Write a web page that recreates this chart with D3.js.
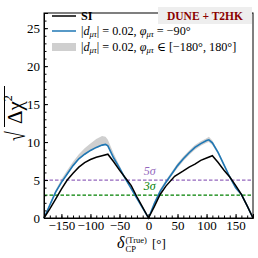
<!DOCTYPE html>
<html><head><meta charset="utf-8">
<script src="https://cdn.jsdelivr.net/npm/d3@7"></script>
<style>body{margin:0;background:#fff}svg{display:block}text{font-family:"Liberation Serif","DejaVu Serif",serif}</style>
</head><body><div id="c"></div>
<script>
const deltaSI = [-180,-170,-160,-150,-140,-130,-120,-110,-100,-90,-80,-70,-60,-50,-40,-30,-20,-10,0,10,20,30,45,60,70,80,90,100,110,120,130,140,150,160,170,180];
const valSI   = [0,1.2,2.5,3.8,5.0,5.9,6.7,7.3,7.7,8.0,8.2,8.4,7.4,6.3,5.3,4.3,2.8,1.4,0,1.5,3.1,4.2,5.5,6.2,6.7,7.1,7.6,7.9,8.2,7.3,6.3,5.4,4.3,3.1,1.6,0];
const deltaNSI = [-180,-170,-160,-150,-140,-130,-120,-110,-100,-90,-80,-74,-70,-60,-50,-40,-30,-20,-10,0,10,20,30,40,50,60,70,80,90,100,104,110,120,130,140,150,160,170,180];
const valNSI   = [0,1.7,3.4,4.7,5.8,6.9,7.8,8.4,8.9,9.3,9.6,9.7,9.5,7.9,6.6,5.2,3.9,2.6,1.3,0,1.9,3.5,4.7,5.8,6.9,7.8,8.6,9.3,9.8,10.2,10.3,9.9,8.6,7.0,5.4,4.0,3.1,1.6,0];
const bandHi   = [0,1.9,3.7,5.1,6.3,7.4,8.4,9.2,9.8,10.4,10.8,10.7,10.3,8.5,6.9,5.4,4.0,2.7,1.35,0,2.1,3.8,5.0,6.1,7.2,8.1,8.9,9.6,10.1,10.5,10.7,10.2,8.8,7.2,5.6,4.2,3.2,1.7,0];
const bandLo   = [0,1.6,3.3,4.6,5.7,6.8,7.7,8.3,8.8,9.2,9.5,9.6,9.4,7.8,6.5,5.1,3.8,2.5,1.25,0,1.7,3.3,4.5,5.6,6.6,7.5,8.3,9.0,9.5,9.9,10.0,9.6,8.4,6.8,5.2,3.8,3.0,1.5,0];
const xTicks = [-150,-100,-50,0,50,100,150];
const yTicks = [0,5,10,15,20,25];
const sigmaLevels = [5,3];
const sigmaLabels = ["5σ","3σ"];
const sigmaColors = ["#9467bd","#008000"];

const W=258,H=258, L=44,R=253,T=13,B=218;
const svg=d3.select("#c").append("svg").attr("width",W).attr("height",H);
const x=d3.scaleLinear().domain([-180,180]).range([L,R]);
const y=d3.scaleLinear().domain([0,27]).range([B,T]);

const g=svg.append("g");
const area=d3.area().x((d,i)=>x(deltaNSI[i])).y0((d,i)=>y(bandLo[i])).y1((d,i)=>y(bandHi[i]));
g.append("path").datum(bandHi).attr("d",area).attr("fill","#cfcfcf").attr("stroke","none");
sigmaLevels.forEach((s,i)=>{
  g.append("line").attr("x1",L).attr("x2",R).attr("y1",y(s)).attr("y2",y(s))
   .attr("stroke",sigmaColors[i]).attr("stroke-width",1.2).attr("stroke-dasharray","3.5,2");
  g.append("text").attr("x",x(2)).attr("y",y(s)-5).attr("text-anchor","middle")
   .attr("font-size",12).attr("fill",sigmaColors[i]).attr("font-style","italic").text(sigmaLabels[i]);
});
const line=(xs)=>d3.line().x((d,i)=>x(xs[i])).y(d=>y(d));
g.append("path").datum(valNSI).attr("d",line(deltaNSI)).attr("fill","none").attr("stroke","#1f77b4").attr("stroke-width",1.6);
g.append("path").datum(valSI).attr("d",line(deltaSI)).attr("fill","none").attr("stroke","#000").attr("stroke-width",1.5);

svg.append("g").attr("transform",`translate(0,${B})`)
  .call(d3.axisBottom(x).tickValues(xTicks).tickSize(-4).tickPadding(3).tickFormat(d=>d<0?"−"+Math.abs(d):d));
svg.append("g").attr("transform",`translate(0,${B})`)
  .call(d3.axisBottom(x).tickValues(d3.range(-170,180,10)).tickSize(-2.5).tickFormat(""))
  .call(a=>a.select(".domain").remove());
svg.append("g").attr("transform",`translate(${L},0)`)
  .call(d3.axisLeft(y).tickValues(yTicks).tickSize(-4).tickPadding(4));
svg.append("g").attr("transform",`translate(${L},0)`)
  .call(d3.axisLeft(y).tickValues(d3.range(1,28,1)).tickSize(-2.5).tickFormat(""))
  .call(a=>a.select(".domain").remove());
svg.selectAll(".tick text").attr("font-size",13).attr("font-family","Liberation Serif, serif").attr("fill","#000");
svg.selectAll(".domain").attr("stroke","#000");
svg.append("rect").attr("x",L).attr("y",T).attr("width",R-L).attr("height",B-T).attr("fill","none").attr("stroke","#000").attr("stroke-width",1);

// legend
const lg=svg.append("g").attr("font-size",12.2);
lg.append("line").attr("x1",52).attr("x2",76).attr("y1",16).attr("y2",16).attr("stroke","#000").attr("stroke-width",1.5);
lg.append("text").attr("x",81).attr("y",20).attr("font-weight","bold").text("SI");
lg.append("line").attr("x1",52).attr("x2",76).attr("y1",31).attr("y2",31).attr("stroke","#1f77b4").attr("stroke-width",1.5);
function legText(yy, tail){
  const t=lg.append("text").attr("x",81).attr("y",yy);
  t.append("tspan").text("|");
  t.append("tspan").attr("font-style","italic").text("d");
  t.append("tspan").attr("font-size",8.5).attr("dy",2).attr("font-style","italic").text("μτ");
  t.append("tspan").attr("dy",-2).text("| = 0.02,  ");
  t.append("tspan").attr("font-style","italic").text("φ");
  t.append("tspan").attr("font-size",8.5).attr("dy",2).attr("font-style","italic").text("μτ");
  t.append("tspan").attr("dy",-2).text(tail);
}
legText(35," = −90°");
lg.append("rect").attr("x",52).attr("y",43).attr("width",24).attr("height",8).attr("fill","#cfcfcf");
legText(51," ∈ [−180°, 180°]");

svg.append("rect").attr("x",158).attr("y",7).attr("width",94).attr("height",17).attr("fill","#eeeeee");
svg.append("text").attr("x",205).attr("y",20).attr("text-anchor","middle").attr("font-size",11.5).attr("font-weight","bold")
  .attr("fill","#8b0000").text("DUNE + T2HK");

// y label
const yl=svg.append("g").attr("transform","translate(22,141) rotate(-90)");
yl.append("text").attr("transform","translate(0,3) scale(0.8,1.2)").attr("font-size",22).attr("font-family","DejaVu Serif, serif").text("√");
const yt=yl.append("text").attr("x",17).attr("y",0).attr("font-size",21);
yt.append("tspan").text("Δχ");
yt.append("tspan").attr("font-size",12).attr("dy",-10).text("2");
yl.append("line").attr("x1",14).attr("x2",55).attr("y1",-17.5).attr("y2",-17.5).attr("stroke","#000").attr("stroke-width",1);

// x label
svg.append("text").attr("x",117).attr("y",248).attr("font-size",16).attr("font-style","italic").text("δ");
svg.append("text").attr("x",125.5).attr("y",243).attr("font-size",8.5).text("(True)");
svg.append("text").attr("x",125.5).attr("y",252).attr("font-size",8.5).text("CP");
svg.append("text").attr("x",152).attr("y",248).attr("font-size",13).text("[°]");
</script></body></html>
